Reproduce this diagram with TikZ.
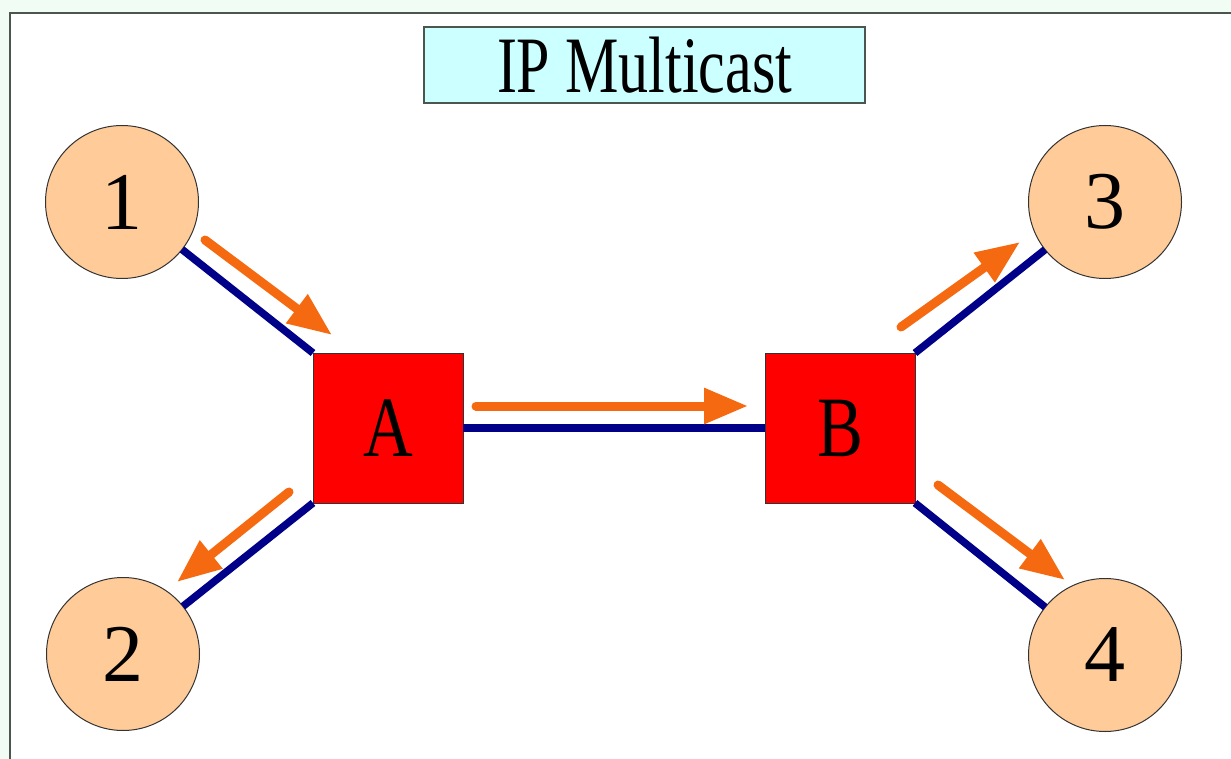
\documentclass[tikz,border=0pt]{standalone}
\usepackage{fontspec}
\setmainfont{Liberation Serif}
\usetikzlibrary{arrows.meta}
\definecolor{mint}{HTML}{F0FCF4}
\definecolor{framegray}{HTML}{4A564E}
\definecolor{peach}{HTML}{FFCC99}
\definecolor{titlecyan}{HTML}{CCFFFF}
\definecolor{linknavy}{HTML}{000088}
\definecolor{flow}{HTML}{F56A10}
\tikzset{
  host/.style={circle, draw=black!80, line width=1pt, fill=peach, minimum size=153pt, inner sep=0pt, outer sep=0pt, font=\fontsize{82}{82}\selectfont},
  router/.style={rectangle, draw=black!80, line width=1pt, fill=red, minimum size=150pt, inner sep=0pt, outer sep=0pt, font=\fontsize{86}{86}\selectfont},
  titlebox/.style={rectangle, draw=framegray, line width=2pt, fill=titlecyan, minimum width=441pt, minimum height=76pt, inner sep=0pt, font=\fontsize{80}{80}\selectfont},
  link/.style={draw=linknavy, line width=7.5pt},
  flowarrow/.style={draw=flow, line width=9pt, line cap=round, -{Triangle[length=44pt,width=34pt]}, fill=flow}
}
\begin{document}
\begin{tikzpicture}[x=1pt,y=-1pt]
\useasboundingbox (0,0) rectangle (1231,759);
\fill[mint] (0,0) rectangle (1231,759);
\begin{scope}
\clip (0,0) rectangle (1231,759);
\draw[framegray, line width=2.5pt, fill=white] (10,13) rectangle (1250,780);
\end{scope}
\node[titlebox] (title) at (644.5,65) {\scalebox{0.75}[1]{IP Multicast}};
\node[host] (n1) at (122,202) {1};
\node[host] (n2) at (123,654) {2};
\node[host] (n3) at (1105,202) {3};
\node[host] (n4) at (1105,655) {4};
\node[router] (A) at (388,428) {\scalebox{0.8}[1]{A}};
\node[router] (B) at (840,428) {\scalebox{0.8}[1]{B}};
\draw[link] (n1) -- (A.north west);
\draw[link] (A.south west) -- (n2);
\draw[link] (A.east) -- (B.west);
\draw[link] (B.north east) -- (n3);
\draw[link] (B.south east) -- (n4);
\coordinate (f1s) at (205,240);
\coordinate (f1e) at (332,335);
\coordinate (f2s) at (289,492);
\coordinate (f2e) at (177,582);
\coordinate (f3s) at (476,406);
\coordinate (f3e) at (748,406);
\coordinate (f4s) at (901,327);
\coordinate (f4e) at (1020,242);
\coordinate (f5s) at (938,485);
\coordinate (f5e) at (1065,580);
\draw[flowarrow] (f1s) -- (f1e);
\draw[flowarrow] (f2s) -- (f2e);
\draw[flowarrow] (f3s) -- (f3e);
\draw[flowarrow] (f4s) -- (f4e);
\draw[flowarrow] (f5s) -- (f5e);
\end{tikzpicture}
\end{document}
